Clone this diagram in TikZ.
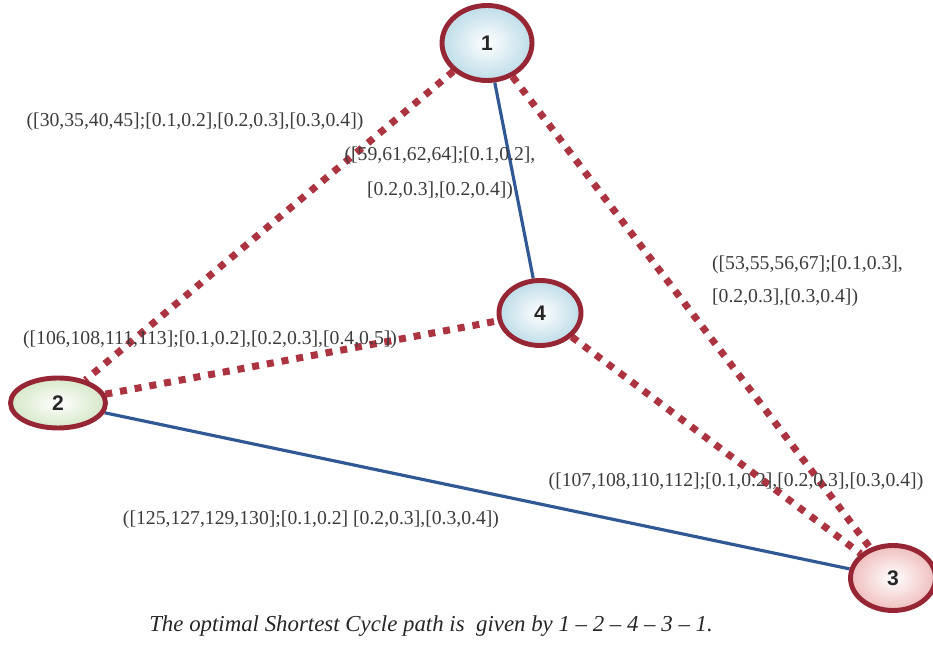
\documentclass[tikz,border=0pt]{standalone}
\usepackage{fontspec}
\setmainfont{Liberation Serif}
\setsansfont{Liberation Sans}
\usepackage{tikz}
\usetikzlibrary{positioning,shapes.geometric,calc,backgrounds}
\usepackage{xcolor}
\definecolor{cyclered}{RGB}{172,52,64}
\definecolor{rimred}{RGB}{150,38,52}
\definecolor{pathblue}{RGB}{48,88,148}
\definecolor{labelgray}{RGB}{60,60,60}
\definecolor{vblue}{RGB}{190,220,232}
\definecolor{vgreen}{RGB}{214,232,200}
\definecolor{vpink}{RGB}{240,190,190}

\begin{document}
\begin{tikzpicture}[
  vertex/.style={ellipse,draw=rimred,line width=2.8pt,inner sep=0pt,font=\sffamily\bfseries\large,text=black!85},
  dotedge/.style={cyclered,line width=4pt,dash pattern=on 4pt off 4.5pt},
  pathedge/.style={pathblue,line width=1.8pt},
  lbl/.style={font=\fontsize{11.2}{12}\selectfont,text=labelgray,inner sep=1pt}
]
\useasboundingbox (0,0) rectangle (18.66,12.88);

% vertices
\node[vertex,minimum width=1.8cm,minimum height=1.5cm,inner color=white,outer color=vblue] (v1) at (9.74,12.02) {1};
\node[vertex,minimum width=1.9cm,minimum height=1.0cm,inner color=white,outer color=vgreen] (v2) at (1.16,4.82) {2};
\node[vertex,minimum width=1.64cm,minimum height=1.3cm,inner color=white,outer color=vblue] (v4) at (10.80,6.62) {4};
\node[vertex,minimum width=1.7cm,minimum height=1.3cm,inner color=white,outer color=vpink] (v3) at (17.86,1.32) {3};

% edges of the cycle
\begin{scope}[on background layer]
\draw[dotedge] (v1) -- (v2);
\draw[dotedge] (v1) -- (v3);
\draw[dotedge] (v2) -- (v4);
\draw[dotedge] (v4) -- (v3);
\draw[pathedge] (v1) -- (v4);
\draw[pathedge] (v2) -- (v3);
\end{scope}

% edge weights
\node[lbl] (w12) at (3.9,10.44) {([30,35,40,45];[0.1,0.2],[0.2,0.3],[0.3,0.4])};
\node[lbl,align=center] (w14) at (8.8,9.42) {([59,61,62,64];[0.1,0.2],\\[8pt][0.2,0.3],[0.2,0.4])};
\node[lbl,align=left,anchor=west] (w13) at (14.2,7.25) {([53,55,56,67];[0.1,0.3],\\[7pt][0.2,0.3],[0.3,0.4])};
\node[lbl] (w24) at (4.2,6.08) {([106,108,111,113];[0.1,0.2],[0.2,0.3],[0.4,0.5])};
\node[lbl] (w43) at (14.72,3.24) {([107,108,110,112];[0.1,0.2],[0.2,0.3],[0.3,0.4])};
\node[lbl] (w23) at (6.22,2.48) {([125,127,129,130];[0.1,0.2] [0.2,0.3],[0.3,0.4])};

% result
\node[font=\itshape\fontsize{13}{15}\selectfont,text=black!85] (res) at (8.62,0.36) {The optimal Shortest Cycle path is\ \ given by 1 -- 2 -- 4 -- 3 -- 1.};
\end{tikzpicture}
\end{document}
